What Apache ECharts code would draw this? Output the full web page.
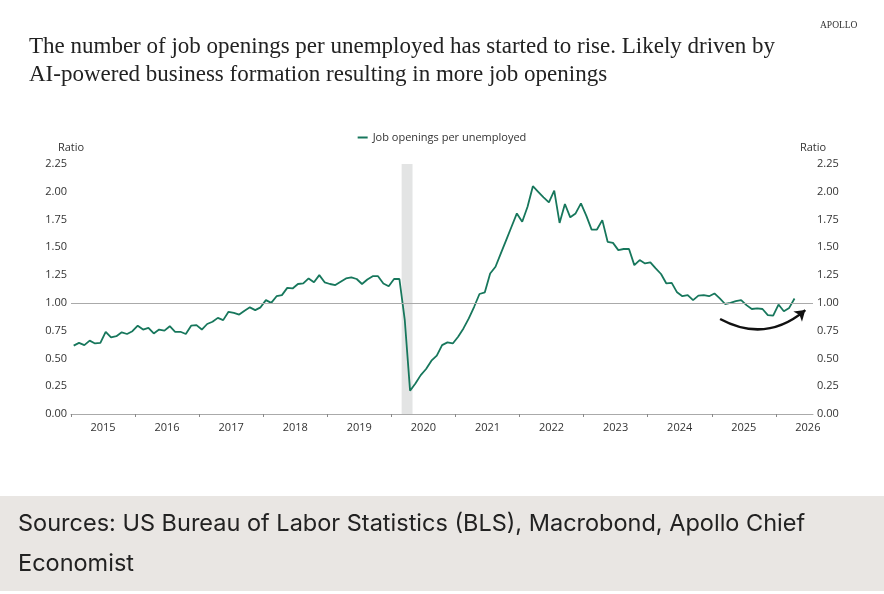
<!DOCTYPE html>
<html lang="en">
<head>
<meta charset="utf-8">
<title>Job openings per unemployed</title>
<script src="https://cdn.jsdelivr.net/npm/echarts@6.0.0/dist/echarts.min.js"></script>
<style>
  html, body { margin: 0; padding: 0; background: #fff; }
  #main { width: 884px; height: 594px; }
</style>
</head>
<body>
<div id="main"></div>
<script>
// monthly series, first point = Jan 2015
var startYear = 2015;
var ratio = [
  0.615, 0.64, 0.62, 0.66, 0.635, 0.64, 0.74, 0.69, 0.70, 0.735, 0.72, 0.745,   // 2015
  0.795, 0.76, 0.775, 0.725, 0.76, 0.75, 0.79, 0.74, 0.74, 0.72, 0.795, 0.80,   // 2016
  0.76, 0.81, 0.83, 0.865, 0.845, 0.92, 0.91, 0.895, 0.93, 0.96, 0.935, 0.96,   // 2017
  1.025, 1.00, 1.06, 1.07, 1.135, 1.13, 1.17, 1.175, 1.22, 1.185, 1.25, 1.185,  // 2018
  1.17, 1.16, 1.19, 1.22, 1.23, 1.215, 1.17, 1.21, 1.24, 1.24, 1.175, 1.15,     // 2019
  1.215, 1.215, 0.85, 0.21, 0.275, 0.35, 0.405, 0.48, 0.525, 0.62, 0.645, 0.635, // 2020
  0.695, 0.77, 0.86, 0.965, 1.08, 1.095, 1.265, 1.325, 1.445, 1.565, 1.685, 1.805, // 2021
  1.73, 1.865, 2.05, 2.00, 1.95, 1.905, 2.01, 1.72, 1.89, 1.77, 1.805, 1.895,   // 2022
  1.785, 1.66, 1.66, 1.745, 1.55, 1.54, 1.475, 1.485, 1.485, 1.34, 1.385, 1.355, // 2023
  1.365, 1.31, 1.26, 1.175, 1.18, 1.095, 1.06, 1.07, 1.025, 1.065, 1.07, 1.06,  // 2024
  1.085, 1.04, 0.99, 1.00, 1.015, 1.025, 0.98, 0.945, 0.95, 0.945, 0.89, 0.885, // 2025
  0.985, 0.925, 0.955, 1.04                                                     // 2026
];
var yearTicks = [2015, 2016, 2017, 2018, 2019, 2020, 2021, 2022, 2023, 2024, 2025, 2026];
var recession = [2020.16, 2020.33];
var arrowFrom = [2025.13, 0.855];
var arrowTo = [2026.46, 0.935];

var seriesData = ratio.map(function (v, i) {
  return [startYear + (i + 0.5) / 12, v];
});

var axisFont = { fontFamily: 'Open Sans', fontSize: 11, color: '#333' };

var myChart = echarts.init(document.getElementById('main'));

var yAxisBase = {
  type: 'value',
  min: 0,
  max: 2.25,
  interval: 0.25,
  name: 'Ratio',
  nameLocation: 'end',
  nameGap: 11,
  nameTextStyle: axisFont,
  axisLine: { show: false },
  axisTick: { show: false },
  splitLine: { show: false },
  axisLabel: {
    margin: 4,
    fontFamily: 'Open Sans', fontSize: 11, color: '#333',
    formatter: function (v) { return v.toFixed(2); }
  }
};

var option = {
  animation: false,
  grid: { left: 71, right: 71, top: 164, bottom: 180 },
  legend: {
    top: 127,
    left: 'center',
    data: ['Job openings per unemployed'],
    icon: 'rect',
    itemWidth: 10,
    itemHeight: 2,
    itemGap: 4,
    textStyle: { fontFamily: 'Open Sans', fontSize: 11, color: '#333' }
  },
  xAxis: {
    type: 'value',
    min: 2015,
    max: 2026.58,
    splitLine: { show: false },
    axisLine: { lineStyle: { color: '#aaaaaa', width: 1 } },
    axisTick: {
      customValues: yearTicks,
      length: 3,
      lineStyle: { color: '#888' }
    },
    axisLabel: {
      customValues: yearTicks,
      align: 'left',
      margin: 8,
      formatter: function (v) { return '{y|' + v + '}'; },
      rich: {
        y: { width: 64, align: 'center', fontFamily: 'Open Sans', fontSize: 11, color: '#333' }
      }
    }
  },
  yAxis: [
    Object.assign({}, yAxisBase, { position: 'left' }),
    Object.assign({}, yAxisBase, { position: 'right' })
  ],
  series: [
    {
      name: 'Job openings per unemployed',
      type: 'line',
      data: seriesData,
      symbol: 'none',
      lineStyle: { color: '#17775c', width: 1.8 },
      itemStyle: { color: '#17775c' },
      z: 3,
      markArea: {
        silent: true,
        itemStyle: { color: '#e3e4e4' },
        data: [[{ xAxis: recession[0] }, { xAxis: recession[1] }]]
      },
      markLine: {
        silent: true,
        symbol: 'none',
        label: { show: false },
        lineStyle: { color: '#aaaaaa', width: 1, type: 'solid' },
        data: [{ yAxis: 1 }]
      }
    },
    {
      name: 'arrow',
      type: 'lines',
      coordinateSystem: 'cartesian2d',
      xAxisIndex: 0,
      yAxisIndex: 0,
      symbol: ['none', 'arrow'],
      symbolSize: 10,
      lineStyle: { color: '#111', width: 2.5, curveness: -0.34, opacity: 1 },
      data: [{ coords: [arrowFrom, arrowTo] }],
      z: 4
    }
  ],
  graphic: [
    {
      type: 'text', left: 820, top: 20,
      style: { text: 'APOLLO', fontFamily: 'Liberation Serif', fontSize: 9.5, fill: '#333' }
    },
    {
      type: 'text', left: 29, top: 35,
      style: {
        text: 'The number of job openings per unemployed has started to rise. Likely driven by',
        fontFamily: 'Liberation Serif', fontSize: 23, fill: '#222'
      }
    },
    {
      type: 'text', left: 29, top: 63,
      style: {
        text: 'AI-powered business formation resulting in more job openings',
        fontFamily: 'Liberation Serif', fontSize: 23, fill: '#222'
      }
    },
    {
      type: 'rect', left: 0, top: 496, z: -1,
      shape: { width: 884, height: 95 },
      style: { fill: '#e9e6e3' }
    },
    {
      type: 'text', left: 18, top: 512,
      style: {
        text: 'Sources: US Bureau of Labor Statistics (BLS), Macrobond, Apollo Chief',
        fontFamily: 'Inter', fontSize: 23.5, fill: '#222'
      }
    },
    {
      type: 'text', left: 18, top: 552,
      style: { text: 'Economist', fontFamily: 'Inter', fontSize: 23.5, fill: '#222' }
    }
  ]
};

myChart.setOption(option);
</script>
</body>
</html>
